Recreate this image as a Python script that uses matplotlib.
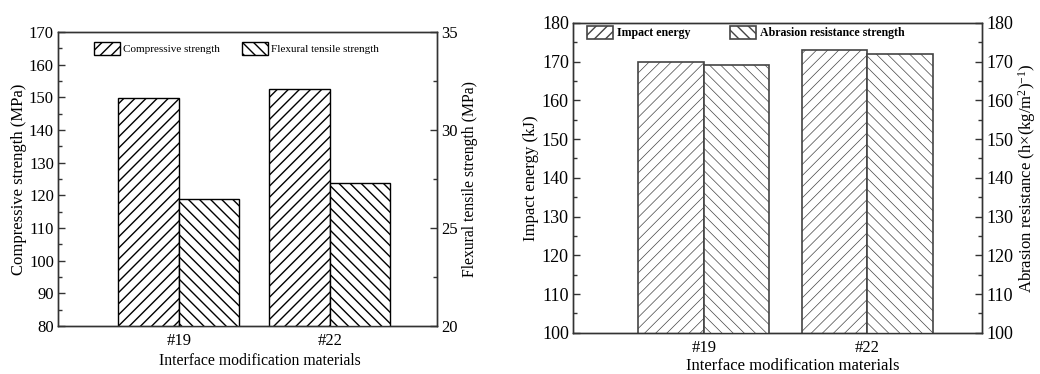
import matplotlib
matplotlib.use('Agg')
import matplotlib.pyplot as plt
from matplotlib.ticker import MultipleLocator
import numpy as np

plt.rcParams['font.family'] = ['Liberation Serif', 'DejaVu Serif']
plt.rcParams['mathtext.fontset'] = 'custom'
plt.rcParams['mathtext.rm'] = 'Liberation Serif'
plt.rcParams['mathtext.it'] = 'Liberation Serif:italic'

# data
materials = ['#19', '#22']
compressive = [149.8, 152.5]      # MPa (left axis)
flexural = [26.5, 27.3]           # MPa (right axis)
impact = [170, 173]               # kJ (left axis)
abrasion = [169, 172]             # h*(kg/m2)^-1 (right axis)

x = np.arange(1, len(materials) + 1)
w = 0.4


def style_y(ax, major, minor, size):
    ax.yaxis.set_major_locator(MultipleLocator(major))
    ax.yaxis.set_minor_locator(MultipleLocator(minor))
    ax.tick_params(axis='y', which='major', direction='in', length=5, width=1,
                   labelsize=size, color='#333333', pad=3)
    ax.tick_params(axis='y', which='minor', direction='in', length=3, width=1,
                   color='#333333')
    ax.tick_params(axis='x', length=0, labelsize=12, pad=5)
    for s in ax.spines.values():
        s.set_color('#333333')
        s.set_linewidth(1.0)


fig = plt.figure(figsize=(10.4, 3.74), dpi=100)

# ---- left panel: compressive / flexural strength
ax1 = fig.add_axes([0.0558, 0.128, 0.3644, 0.786])
ax1r = ax1.twinx()
with plt.rc_context({'hatch.linewidth': 1.0}):
    b1 = ax1.bar(x - w / 2, compressive, w, bottom=0, color='white',
                 edgecolor='black', hatch='///', linewidth=1.0)
    b2 = ax1r.bar(x + w / 2, flexural, w, color='white',
                  edgecolor='black', hatch='\\\\\\', linewidth=1.0)
ax1.set_ylim(80, 170)
ax1r.set_ylim(20, 35)
ax1.set_xlim(0.2, 2.71)
ax1.set_xticks(x)
ax1.set_xticklabels(materials)
style_y(ax1, 10, 5, 12)
style_y(ax1r, 5, 2.5, 12)
ax1.set_ylabel('Compressive strength (MPa)', fontsize=12, labelpad=1)
ax1r.set_ylabel('Flexural tensile strength (MPa)', fontsize=11.3, labelpad=3)
ax1.set_xlabel('Interface modification materials', fontsize=11.3)
ax1.xaxis.set_label_coords(0.533, -0.09)
ax1r.legend([b1, b2], ['Compressive strength', 'Flexural tensile strength'],
            loc='upper left', bbox_to_anchor=(0.095, 0.965), ncol=2,
            frameon=False, fontsize=8, handlelength=2.3, handleheight=1.3,
            handletextpad=0.3, columnspacing=2.0, borderpad=0, borderaxespad=0)

# ---- right panel: impact energy / abrasion resistance
ax2 = fig.add_axes([0.551, 0.110, 0.393, 0.829])
ax2r = ax2.twinx()
with plt.rc_context({'hatch.linewidth': 0.5}):
    b3 = ax2.bar(x - w / 2, impact, w, color='white',
                 edgecolor='#444444', hatch='///', linewidth=1.2)
    b4 = ax2r.bar(x + w / 2, abrasion, w, color='white',
                  edgecolor='#444444', hatch='\\\\\\', linewidth=1.2)
ax2.set_ylim(100, 180)
ax2r.set_ylim(100, 180)
ax2.set_xlim(0.2, 2.7)
ax2.set_xticks(x)
ax2.set_xticklabels(materials)
style_y(ax2, 10, 5, 13)
style_y(ax2r, 10, 5, 13)
ax2.set_ylabel('Impact energy (kJ)', fontsize=12, labelpad=2)
ax2r.set_ylabel(r'Abrasion resistance (h$\times$(kg/m$^{2}$)$^{-1}$)', fontsize=12, labelpad=2)
ax2.set_xlabel('Interface modification materials', fontsize=12)
ax2.xaxis.set_label_coords(0.538, -0.08)
ax2r.legend([b3, b4], ['Impact energy', 'Abrasion resistance strength'],
            loc='upper left', bbox_to_anchor=(0.034, 0.99), ncol=2,
            frameon=False, prop={'size': 8.6, 'weight': 'bold'},
            handlelength=2.2, handleheight=1.3, handletextpad=0.3,
            columnspacing=3.3, borderpad=0, borderaxespad=0)

fig.savefig('out.png', dpi=100)
